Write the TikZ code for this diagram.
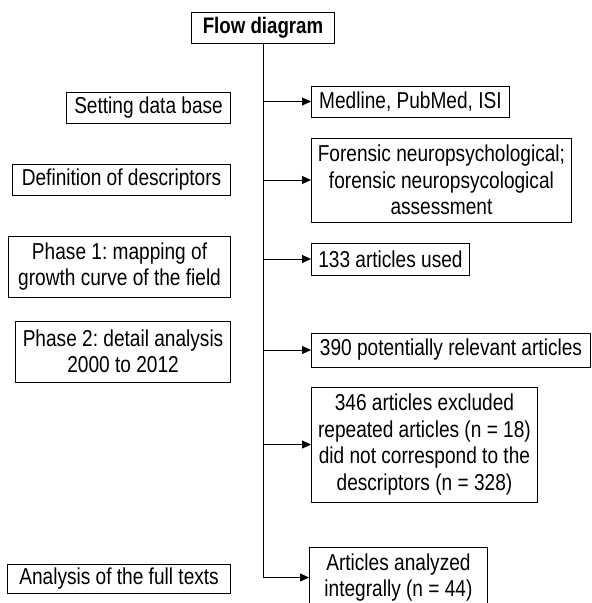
\documentclass[tikz,border=0pt]{standalone}
\usepackage{fontspec}
\setmainfont{Liberation Sans}[FakeStretch=0.83]
\usetikzlibrary{arrows.meta}
\frenchspacing
\begin{document}
\begin{tikzpicture}[x=1pt, y=-1pt, line width=0.9pt,
  box/.style={draw=black, inner sep=2pt, align=center, font=\fontsize{23}{26.5}\selectfont},
  arr/.style={-{Triangle[length=9pt,width=8pt]}}]
\useasboundingbox (0,0) rectangle (592,603);
\node (top) at (263,27.5) [box, minimum width=143pt, minimum height=31pt, font=\bfseries\fontsize{22.5}{26.5}\selectfont] {Flow diagram};

\node (set) at (231,107.5) [box, anchor=east, minimum width=164pt, minimum height=31pt] {Setting data base};
\node (def) at (231,179.5) [box, anchor=east, minimum width=218pt, minimum height=31pt] {Definition of descriptors};
\node (ph1) at (231,266.5) [box, anchor=east, minimum width=222pt, minimum height=61pt] {Phase 1: mapping of\\growth curve of the field};
\node (ph2) at (231,351.5) [box, anchor=east, minimum width=215pt, minimum height=61pt] {Phase 2: detail analysis\\2000 to 2012};
\node (ana) at (231,578.5) [box, anchor=east, minimum width=223pt, minimum height=29pt] {Analysis of the full texts};

\node (med) at (311,101.5) [box, anchor=west, minimum width=198pt, minimum height=31pt] {Medline, PubMed, ISI};
\node (for) at (311,180) [box, anchor=west, minimum width=260pt, minimum height=84pt] {Forensic neuropsychological;\\forensic neuropsycological\\assessment};
\node (use) at (311,259) [box, anchor=west, minimum width=158pt, minimum height=32pt] {133 articles used};
\node (rel) at (311,350) [box, anchor=west, minimum width=279pt, minimum height=34pt] {390 potentially relevant articles};
\node (exc) at (311,444.5) [box, anchor=west, minimum width=226pt, minimum height=115pt] {346 articles excluded\\repeated articles (n = 18)\\did not correspond to the\\descriptors (n = 328)};
\node (int) at (309,577.5) [box, anchor=west, minimum width=178pt, minimum height=61pt] {Articles analyzed\\integrally (n = 44)};

\draw[arr] (top.south) |- (int.west);
\draw[arr] (top.south |- med.west) -- (med.west);
\draw[arr] (top.south |- for.west) -- (for.west);
\draw[arr] (top.south |- use.west) -- (use.west);
\draw[arr] (top.south |- rel.west) -- (rel.west);
\draw[arr] (top.south |- exc.west) -- (exc.west);
\end{tikzpicture}
\end{document}
